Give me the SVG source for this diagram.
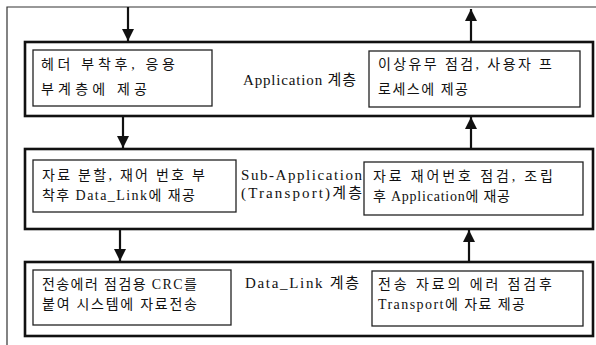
<svg xmlns="http://www.w3.org/2000/svg" width="596" height="345" viewBox="0 0 596 345">
  <style>
    .frame { fill: none; stroke: #333; stroke-width: 1.2; }
    .layer { fill: none; stroke: #111; stroke-width: 2.6; }
    .task { fill: #fff; stroke: #222; stroke-width: 1.3; }
    .wire { stroke: #111; stroke-width: 2.2; fill: none; }
    .txt { font-family: "Liberation Serif", "Noto Sans CJK KR", serif; font-size: 14px; fill: #111; }
    .lbl { font-family: "Liberation Serif", "Noto Sans CJK KR", serif; font-size: 15px; fill: #111; }
  </style>
  <defs>
    <marker id="head" viewBox="0 0 12 12" refX="12" refY="6" markerWidth="12" markerHeight="12" markerUnits="userSpaceOnUse" orient="auto">
      <path d="M0,0 L12,6 L0,12 Z" fill="#111"/>
    </marker>
  </defs>
  <rect width="596" height="345" fill="#fff"/>

  <!-- outer frame -->
  <path class="frame" d="M7,345 L7,7 L596,7"/>

  <!-- Application layer -->
  <g id="application">
    <rect class="layer" x="25" y="42" width="568" height="74"/>
    <text class="lbl" x="243" y="85" textLength="113" lengthAdjust="spacing">Application 계층</text>
  </g>
  <g id="app-send">
    <rect class="task" x="33" y="50" width="179" height="56"/>
    <text class="txt" x="41" y="69" textLength="134" lengthAdjust="spacing">헤더 부착후, 응용</text>
    <text class="txt" x="41" y="94" textLength="106" lengthAdjust="spacing">부계층에 제공</text>
  </g>
  <g id="app-recv">
    <rect class="task" x="369" y="51" width="211" height="56"/>
    <text class="txt" x="378" y="69" textLength="174" lengthAdjust="spacing">이상유무 점검, 사용자 프</text>
    <text class="txt" x="378" y="94" textLength="90" lengthAdjust="spacing">로세스에 제공</text>
  </g>

  <!-- Sub-Application (Transport) layer -->
  <g id="transport">
    <rect class="layer" x="25" y="149" width="568" height="80"/>
    <text class="lbl" x="241" y="180" textLength="121" lengthAdjust="spacing">Sub-Application</text>
    <text class="lbl" x="241" y="198" textLength="121" lengthAdjust="spacing">(Transport)계층</text>
  </g>
  <g id="transport-send">
    <rect class="task" x="33" y="160" width="203" height="52"/>
    <text class="txt" x="42" y="180" textLength="163" lengthAdjust="spacing">자료 분할, 재어 번호 부</text>
    <text class="txt" x="42" y="200" textLength="153" lengthAdjust="spacing">착후 Data_Link에 재공</text>
  </g>
  <g id="transport-recv">
    <rect class="task" x="364" y="162" width="219" height="53"/>
    <text class="txt" x="373" y="181" textLength="180" lengthAdjust="spacing">자료 재어번호 점검, 조립</text>
    <text class="txt" x="373" y="201" textLength="137" lengthAdjust="spacing">후 Application에 재공</text>
  </g>

  <!-- Data_Link layer -->
  <g id="datalink">
    <rect class="layer" x="25" y="262" width="568" height="74"/>
    <text class="lbl" x="245" y="288" textLength="114" lengthAdjust="spacing">Data_Link 계층</text>
  </g>
  <g id="datalink-send">
    <rect class="task" x="33" y="270" width="198" height="55"/>
    <text class="txt" x="42" y="289" textLength="155" lengthAdjust="spacing">전송에러 점검용 CRC를</text>
    <text class="txt" x="42" y="309" textLength="155" lengthAdjust="spacing">붙여 시스템에 자료전송</text>
  </g>
  <g id="datalink-recv">
    <rect class="task" x="372" y="271" width="211" height="55"/>
    <text class="txt" x="378" y="289" textLength="174" lengthAdjust="spacing">전송 자료의 에러 점검후</text>
    <text class="txt" x="378" y="309" textLength="147" lengthAdjust="spacing">Transport에 자료 제공</text>
  </g>

  <!-- connectors -->
  <g id="connectors">
    <line class="wire" x1="128" y1="7" x2="128" y2="41" marker-end="url(#head)"/>
    <line class="wire" x1="471" y1="41" x2="471" y2="9" marker-end="url(#head)"/>
    <line class="wire" x1="123" y1="117" x2="123" y2="148" marker-end="url(#head)"/>
    <line class="wire" x1="471" y1="148" x2="471" y2="117" marker-end="url(#head)"/>
    <line class="wire" x1="120" y1="230" x2="120" y2="261" marker-end="url(#head)"/>
    <line class="wire" x1="469" y1="261" x2="469" y2="230" marker-end="url(#head)"/>
  </g>
</svg>
